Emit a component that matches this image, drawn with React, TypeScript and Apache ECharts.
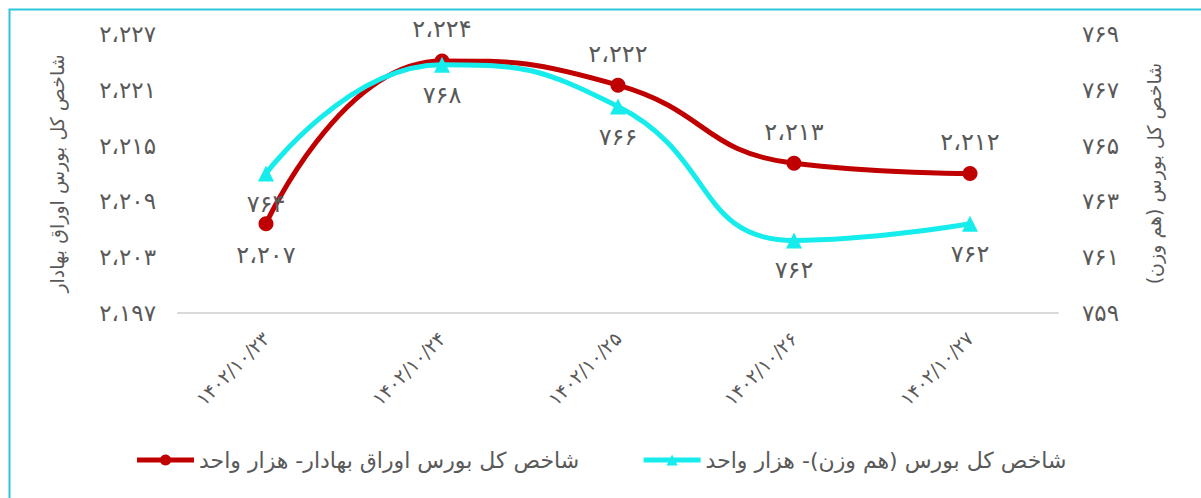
import React, { useEffect, useRef } from "react";
import * as echarts from "echarts";

const categories = ["۱۴۰۲/۱۰/۲۳", "۱۴۰۲/۱۰/۲۴", "۱۴۰۲/۱۰/۲۵", "۱۴۰۲/۱۰/۲۶", "۱۴۰۲/۱۰/۲۷"];
const bondIndex = [2206.6, 2224.1, 2221.5, 2213.1, 2212.0];
const equalWeightIndex = [764.0, 767.9, 766.4, 761.6, 762.2];
const bondName = "شاخص کل بورس اوراق بهادار- هزار واحد";
const equalName = "شاخص کل بورس (هم وزن)- هزار واحد";
const leftAxisName = "شاخص کل بورس اوراق بهادار";
const rightAxisName = "شاخص کل بورس (هم وزن)";
const leftAxisRange = { min: 2197, max: 2227, interval: 6 };
const rightAxisRange = { min: 759, max: 769, interval: 2 };
const bondLabelPositions = ["bottom", "top", "top", "top", "top"];

const FA_DIGITS = "۰۱۲۳۴۵۶۷۸۹";
function toFa(v: number): string {
  const n = Math.round(v);
  const s = String(n).replace(/\B(?=(\d{3})+(?!\d))/g, "،");
  return s.replace(/\d/g, (d) => FA_DIGITS[+d]);
}

const FONT = "'DejaVu Sans', sans-serif";
const TXT = "#595959";
const RED = "#c00000";
const CYAN = "#16ecec";

export default function App() {
  const ref = useRef<HTMLDivElement>(null);
  useEffect(() => {
    document.body.style.margin = "0";
    const chart = echarts.init(ref.current!, null, { renderer: "svg" });
    chart.setOption({
      animation: false,
      backgroundColor: "#ffffff",
      textStyle: { fontFamily: FONT },
      graphic: [
        {
          type: "rect",
          left: 7,
          top: 7,
          shape: { x: 0, y: 0, width: 1300, height: 600 },
          style: { fill: "none", stroke: "#2cc6d8", lineWidth: 2 },
          silent: true,
        },
      ],
      grid: { left: 178, right: 143, top: 34, bottom: 185 },
      legend: {
        bottom: 22,
        left: "center",
        itemWidth: 57,
        itemHeight: 14,
        itemGap: 62,
        lineStyle: { width: 5 },
        textStyle: { color: TXT, fontSize: 22, fontFamily: FONT },
        data: [bondName, equalName],
      },
      xAxis: {
        type: "category",
        data: categories,
        boundaryGap: true,
        axisLine: { show: true, lineStyle: { color: "#d9d9d9", width: 2 } },
        axisTick: { show: false },
        axisLabel: { rotate: 45, color: TXT, fontSize: 19, margin: 22, interval: 0, fontFamily: FONT },
      },
      yAxis: [
        {
          type: "value",
          position: "left",
          min: leftAxisRange.min,
          max: leftAxisRange.max,
          interval: leftAxisRange.interval,
          axisLine: { show: false },
          axisTick: { show: false },
          splitLine: { show: false },
          axisLabel: { color: TXT, fontSize: 23, margin: 22, formatter: (v: number) => toFa(v), fontFamily: FONT },
          name: leftAxisName,
          nameLocation: "middle",
          nameRotate: 90,
          nameGap: 112,
          nameTextStyle: { color: TXT, fontSize: 19, fontFamily: FONT },
        },
        {
          type: "value",
          position: "right",
          min: rightAxisRange.min,
          max: rightAxisRange.max,
          interval: rightAxisRange.interval,
          axisLine: { show: false },
          axisTick: { show: false },
          splitLine: { show: false },
          axisLabel: { color: TXT, fontSize: 23, margin: 24, formatter: (v: number) => toFa(v), fontFamily: FONT },
          name: rightAxisName,
          nameLocation: "middle",
          nameRotate: 90,
          nameGap: 86,
          nameTextStyle: { color: TXT, fontSize: 19, fontFamily: FONT },
        },
      ],
      series: [
        {
          name: bondName,
          type: "line",
          yAxisIndex: 0,
          smooth: 0.5,
          symbol: "circle",
          symbolSize: 15,
          lineStyle: { color: RED, width: 5 },
          itemStyle: { color: RED },
          data: bondIndex.map((v, i) => ({
            value: v,
            label: { position: bondLabelPositions[i] },
          })),
          label: {
            show: true,
            color: TXT,
            fontSize: 24,
            distance: 12,
            fontFamily: FONT,
            formatter: (p: any) => toFa(p.value),
          },
          z: 3,
        },
        {
          name: equalName,
          type: "line",
          yAxisIndex: 1,
          smooth: 0.5,
          symbol: "triangle",
          symbolSize: 16,
          lineStyle: { color: CYAN, width: 5 },
          itemStyle: { color: CYAN },
          data: equalWeightIndex,
          label: {
            show: true,
            position: "bottom",
            color: TXT,
            fontSize: 24,
            distance: 10,
            fontFamily: FONT,
            formatter: (p: any) => toFa(p.value),
          },
          z: 4,
        },
      ],
    });
    return () => chart.dispose();
  }, []);
  return <div ref={ref} style={{ width: 1201, height: 498 }} />;
}
